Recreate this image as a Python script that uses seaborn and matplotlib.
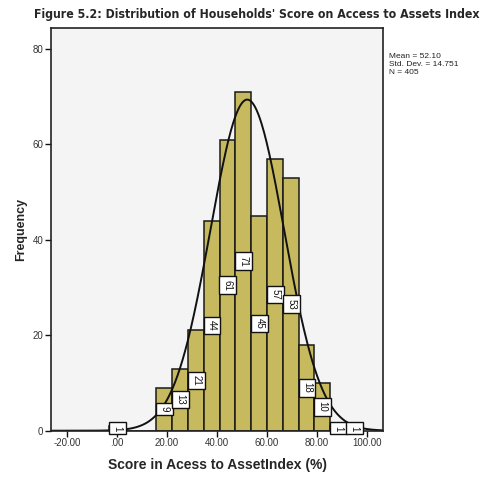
import numpy as np
import pandas as pd
import matplotlib
matplotlib.use("Agg")
import matplotlib.pyplot as plt
import seaborn as sns

# ---- data ----
score_bins = [0.0, 19.0, 25.33, 31.67, 38.0, 44.33, 50.67, 57.0, 63.33, 69.67, 76.0, 82.33, 88.67, 95.0]
frequency = [1, 9, 13, 21, 44, 61, 71, 45, 57, 53, 18, 10, 1, 1]
x_ticks = [-20, 0, 20, 40, 60, 80, 100]
x_tick_labels = ["-20.00", ".00", "20.00", "40.00", "60.00", "80.00", "100.00"]
y_ticks = [0, 20, 40, 60, 80]
mean_val = 52.10
std_val = 14.751
n_val = 405
bin_width = 6.333

title = "Figure 5.2: Distribution of Households' Score on Access to Assets Index"
xlabel = "Score in Acess to AssetIndex (%)"
ylabel = "Frequency"

df = pd.DataFrame({"score": score_bins, "freq": frequency})

sns.set_style("white")
plt.rcParams["font.family"] = ["DejaVu Sans"]

fig = plt.figure(figsize=(4.88, 4.80), dpi=100)
fig.patch.set_facecolor("white")
ax = fig.add_axes([0.1045, 0.1027, 0.6805, 0.8383])
ax.set_facecolor("#F4F4F4")

sns.histplot(data=df, x="score", weights="freq", binwidth=bin_width,
             binrange=(-3.333, 98.0), color="#C6B95E",
             alpha=1.0, edgecolor="#1a1a1a", linewidth=1.1, ax=ax)

# fitted normal curve (from stated mean / sd / N)
xs = np.linspace(-26.5, 106.5, 400)
ys = n_val * bin_width * np.exp(-0.5 * ((xs - mean_val) / std_val) ** 2) / (std_val * np.sqrt(2 * np.pi))
sns.lineplot(x=xs, y=ys, color="#111111", linewidth=1.4, ax=ax)

# value labels inside bars
for c, f in zip(score_bins, frequency):
    ax.text(c, f / 2.0, str(f), rotation=-90, ha="center", va="center", fontsize=7,
            family=["Liberation Sans", "DejaVu Sans"], color="#111111",
            bbox=dict(boxstyle="square,pad=0.35", facecolor="white", edgecolor="#111111", linewidth=1.0))

ax.set_xlim(-26.5, 106.5)
ax.set_ylim(0, 84.3)
ax.set_xticks(x_ticks)
ax.set_xticklabels(x_tick_labels)
ax.set_yticks(y_ticks)
ax.tick_params(axis="both", direction="out", length=4, width=1, labelsize=7, colors="#111111",
               labelcolor="#333333", bottom=True, left=True, pad=1.5)
for lbl in ax.get_xticklabels() + ax.get_yticklabels():
    lbl.set_fontfamily(["Liberation Sans", "DejaVu Sans"])
for s in ax.spines.values():
    s.set_color("#222222")
    s.set_linewidth(1.2)
    s.set_visible(True)

ax.set_xlabel(xlabel, fontsize=10, fontweight="bold", family=["Liberation Sans", "DejaVu Sans"], labelpad=7)
ax.set_ylabel(ylabel, fontsize=9, fontweight="bold", family=["Liberation Sans", "DejaVu Sans"], labelpad=4)

fig.text(0.527, 0.970, title, ha="center", va="center", fontsize=8.8, fontweight="bold",
         family=["DejaVu Sans"], fontstretch="condensed")
fig.text(0.797, 0.866, f"Mean = {mean_val:.2f}\nStd. Dev. = {std_val:.3f}\nN = {n_val}",
         ha="left", va="center", fontsize=6, linespacing=1.2, color="#222222",
         family=["Liberation Sans", "DejaVu Sans"])

fig.savefig("out.png", dpi=100)
